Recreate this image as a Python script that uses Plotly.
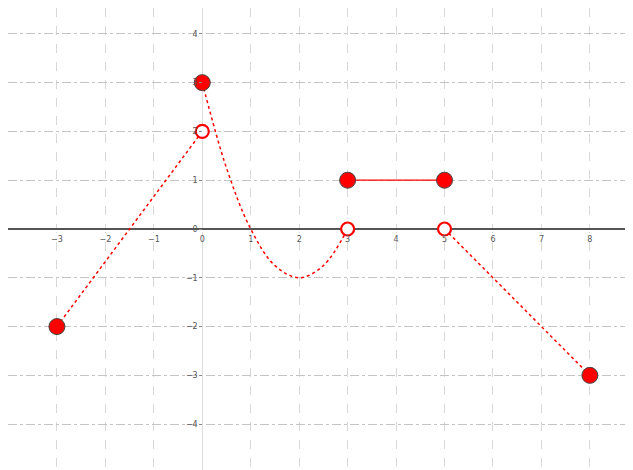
import plotly.graph_objs as go

# piecewise pieces
seg1_x = [-3, 0]
seg1_y = [-2, 2]
curve_x = [0, 0.5, 1, 1.5, 2, 2.5, 3]
curve_y = [3, 1.25, 0, -0.75, -1, -0.75, 0]
seg3_x = [3, 5]
seg3_y = [1, 1]
seg4_x = [5, 8]
seg4_y = [0, -3]

filled_x = [-3, 0, 3, 5, 8]
filled_y = [-2, 3, 1, 1, -3]
open_x = [0, 3, 5]
open_y = [2, 0, 0]

x_ticks = [-3, -2, -1, 0, 1, 2, 3, 4, 5, 6, 7, 8]
y_ticks = [-4, -3, -2, -1, 0, 1, 2, 3, 4]

# page body adds 8px, so the figure is 625x462
x_range = [-4.01, 8.89]
y_range = [-4.94, 4.53]

red = "#ff0000"

fig = go.Figure()
fig.add_trace(go.Scatter(x=seg1_x, y=seg1_y, mode="lines",
                         line=dict(color=red, width=1.5, dash="dot")))
fig.add_trace(go.Scatter(x=curve_x, y=curve_y, mode="lines",
                         line=dict(color=red, width=1.5, dash="dot", shape="spline")))
fig.add_trace(go.Scatter(x=seg3_x, y=seg3_y, mode="lines",
                         line=dict(color=red, width=1.2)))
fig.add_trace(go.Scatter(x=seg4_x, y=seg4_y, mode="lines",
                         line=dict(color=red, width=1.5, dash="dot")))
fig.add_trace(go.Scatter(x=filled_x, y=filled_y, mode="markers",
                         marker=dict(color=red, size=16, line=dict(color="#444444", width=1))))
fig.add_trace(go.Scatter(x=open_x, y=open_y, mode="markers",
                         marker=dict(color="white", size=13, line=dict(color=red, width=2.2))))

x_pos = (0 - y_range[0]) / (y_range[1] - y_range[0])
y_pos = (0 - x_range[0]) / (x_range[1] - x_range[0])

fig.update_layout(
    width=625, height=462,
    margin=dict(l=0, r=0, t=0, b=0),
    paper_bgcolor="white", plot_bgcolor="white",
    showlegend=False,
    font=dict(family="DejaVu Sans", size=8, color="#555555"),
    xaxis=dict(range=x_range, tickvals=x_ticks, anchor="free", position=x_pos,
               showgrid=True, gridcolor="#d8d8d8", griddash="dash", gridwidth=1,
               zeroline=True, zerolinecolor="#dddddd", zerolinewidth=1,
               ticks="outside", ticklen=2, tickcolor="#ffffff",
               showline=False, tickfont=dict(size=8, color="#555555")),
    yaxis=dict(range=y_range, tickvals=y_ticks, anchor="free", position=y_pos,
               showgrid=True, gridcolor="#c4c4c4", griddash="dashdot", gridwidth=1,
               zeroline=True, zerolinecolor="#555555", zerolinewidth=2,
               ticks="outside", ticklen=3, tickcolor="#888888",
               showline=False, tickfont=dict(size=8, color="#555555")),
)

fig.write_html("out.html")
